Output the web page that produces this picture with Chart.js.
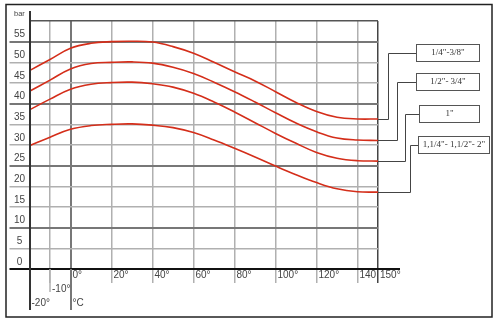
<!DOCTYPE html>
<html>
<head>
<meta charset="utf-8">
<script src="https://cdn.jsdelivr.net/npm/chart.js@4.4.1/dist/chart.umd.min.js"></script>
<style>
  html, body { margin: 0; padding: 0; background: #fff; }
  canvas { display: block; }
</style>
</head>
<body>
<canvas id="chart" width="499" height="322"></canvas>
<script>
// temperature (°C) vs pressure (bar), one curve per hose size
const temps = [-20, -10, 0, 10, 20, 30, 40, 50, 60, 70, 80, 90, 100, 110, 120, 130, 140, 150];
const size14to38 = [48, 50.7, 53.4, 54.6, 55, 55.1, 54.9, 53.8, 52.2, 50, 47.7, 45.5, 42.9, 40.3, 38.1, 36.7, 36.3, 36.3];
const size12to34 = [43, 45.7, 48.4, 49.7, 50, 50.1, 49.8, 48.8, 47.3, 45.2, 42.9, 40.4, 37.8, 35.3, 33.2, 31.7, 31.2, 31.1];
const size1 = [38.5, 41.1, 43.5, 44.7, 45.1, 45.2, 44.8, 44, 42.5, 40.4, 38, 35.4, 32.8, 30.4, 28.2, 26.8, 26.2, 26.1];
const size114to2 = [29.8, 31.9, 33.8, 34.7, 35, 35.1, 34.8, 34.2, 33, 31.2, 29.2, 27.1, 24.9, 22.8, 20.9, 19.4, 18.7, 18.6];
const seriesNames = ['1/4"-3/8"', '1/2"- 3/4"', '1"', '1,1/4"- 1,1/2"- 2"'];

const xTicks = [-20, -10, 0, 20, 40, 60, 80, 100, 120, 140, 150];
const xTickLabels = [['', '', '-20°'], ['', '-10°'], ['0°', '', '°C'], '20°', '40°', '60°', '80°', '100°', '120°', '140', '150°'];
const yUnit = 'bar';

const red = '#d42e1a';
const lightGrid = '#b0b0b0';
const labelColor = '#444';

const toPoints = (vals) => temps.map((t, i) => ({ x: t, y: vals[i] }));

// leader lines + label boxes on the right, plus tick extensions and frame
const callouts = {
  id: 'callouts',
  beforeDraw(chart) {
    const ctx = chart.ctx;
    ctx.save();
    ctx.fillStyle = '#fff';
    ctx.fillRect(0, 0, chart.width, chart.height);
    ctx.restore();
  },
  afterDraw(chart) {
    const ctx = chart.ctx;
    const xs = chart.scales.x;
    const ys = chart.scales.y;
    const area = chart.chartArea;
    ctx.save();

    // axis extensions
    ctx.strokeStyle = '#333';
    ctx.lineWidth = 2;
    ctx.beginPath();
    ctx.moveTo(Math.round(xs.getPixelForValue(-20)), 11);
    ctx.lineTo(Math.round(xs.getPixelForValue(-20)), 310);
    ctx.stroke();

    ctx.strokeStyle = '#777';
    ctx.beginPath();
    ctx.moveTo(Math.round(xs.getPixelForValue(0)), area.bottom);
    ctx.lineTo(Math.round(xs.getPixelForValue(0)), 310);
    ctx.stroke();

    ctx.strokeStyle = lightGrid;
    ctx.lineWidth = 1.5;
    ctx.beginPath();
    ctx.moveTo(xs.getPixelForValue(-10), area.bottom);
    ctx.lineTo(xs.getPixelForValue(-10), 292);
    ctx.stroke();

    ctx.strokeStyle = '#111';
    ctx.lineWidth = 2;
    ctx.beginPath();
    ctx.moveTo(area.right, Math.round(ys.getPixelForValue(0)));
    ctx.lineTo(400, Math.round(ys.getPixelForValue(0)));
    ctx.stroke();

    // callouts
    const elbowX = [388.5, 397.5, 405.5, 410.5];
    const boxX = [416.5, 416.5, 419.5, 418.5];
    const boxY = [44.5, 73.5, 105.5, 136.5];
    const boxW = [63, 63, 60, 71];
    const boxH = 17;
    ctx.lineWidth = 1;
    ctx.font = '9px "Liberation Serif", "Times New Roman", serif';
    ctx.textAlign = 'center';
    ctx.textBaseline = 'middle';
    chart.data.datasets.forEach((ds, i) => {
      const meta = chart.getDatasetMeta(i);
      const endY = Math.round(meta.data[meta.data.length - 1].y) + 0.5;
      const midY = boxY[i] + boxH / 2;
      ctx.strokeStyle = '#444';
      ctx.beginPath();
      ctx.moveTo(area.right, endY);
      ctx.lineTo(elbowX[i], endY);
      ctx.lineTo(elbowX[i], Math.round(midY) + 0.5);
      ctx.lineTo(boxX[i], Math.round(midY) + 0.5);
      ctx.stroke();
      ctx.strokeStyle = '#555';
      ctx.strokeRect(boxX[i], boxY[i], boxW[i], boxH);
      ctx.fillStyle = '#333';
      ctx.fillText(ds.label, boxX[i] + boxW[i] / 2, midY);
    });

    // outer frame
    ctx.strokeStyle = '#222';
    ctx.lineWidth = 1.5;
    ctx.strokeRect(6, 4.5, 486, 312.5);
    ctx.restore();
  }
};

const makeSet = (label, vals) => ({
  label,
  data: toPoints(vals),
  borderColor: red,
  borderWidth: 1.6,
  pointRadius: 0,
  fill: false,
  tension: 0.4
});

new Chart(document.getElementById('chart'), {
  type: 'line',
  data: {
    datasets: [
      makeSet(seriesNames[0], size14to38),
      makeSet(seriesNames[1], size12to34),
      makeSet(seriesNames[2], size1),
      makeSet(seriesNames[3], size114to2)
    ]
  },
  options: {
    responsive: false,
    animation: false,
    layout: { padding: { left: 0, top: 21, right: 121, bottom: 0 } },
    plugins: {
      legend: { display: false },
      tooltip: { enabled: false }
    },
    scales: {
      x: {
        type: 'linear',
        min: -20,
        max: 150,
        afterBuildTicks: (s) => { s.ticks = xTicks.map((v) => ({ value: v })); },
        afterFit: (s) => { s.height = 53; },
        border: { display: false },
        grid: {
          tickLength: 14,
          color: (c) => {
            const v = c.tick && c.tick.value;
            if (v === -20) return '#333';
            if (v === 0) return '#777';
            if (v === 150) return '#444';
            return lightGrid;
          },
          lineWidth: (c) => {
            const v = c.tick && c.tick.value;
            return v === -20 || v === 0 ? 2 : 1.5;
          }
        },
        ticks: {
          autoSkip: false,
          maxRotation: 0,
          align: 'start',
          labelOffset: 2,
          padding: -14.5,
          color: labelColor,
          font: { family: '"Liberation Sans", Arial, sans-serif', size: 10, lineHeight: '14px' },
          callback: (v, i) => xTickLabels[i]
        }
      },
      y: {
        min: 0,
        max: 60,
        afterFit: (s) => { s.width = 29.5; },
        border: { display: false },
        grid: {
          tickLength: 20,
          color: (c) => {
            const v = c.tick && c.tick.value;
            if (v === 0) return '#111';
            if (v === 60) return '#555';
            if (v % 15 === 10) return '#777';
            return lightGrid;
          },
          tickColor: (c) => {
            const v = c.tick && c.tick.value;
            if (v === 60) return 'rgba(0,0,0,0)';
            if (v === 0) return '#111';
            if (v % 15 === 10) return '#777';
            return lightGrid;
          },
          lineWidth: (c) => {
            const v = c.tick && c.tick.value;
            return v === 0 || v % 15 === 10 ? 2 : 1.5;
          }
        },
        ticks: {
          stepSize: 5,
          crossAlign: 'center',
          padding: -15.5,
          labelOffset: -7,
          color: labelColor,
          font: (c) => ({
            family: '"Liberation Sans", Arial, sans-serif',
            size: c.tick && c.tick.value === 60 ? 7.5 : 10
          }),
          callback: (v) => (v === 60 ? yUnit : v)
        }
      }
    }
  },
  plugins: [callouts]
});
</script>
</body>
</html>
